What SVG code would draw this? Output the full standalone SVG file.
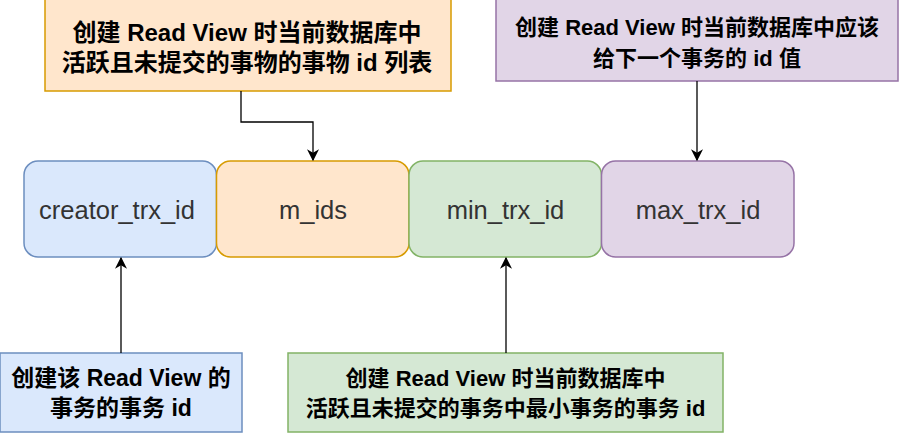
<svg xmlns="http://www.w3.org/2000/svg" width="900" height="437" viewBox="0 0 900 437">
  <defs>
    <marker id="arrow" viewBox="0 0 10 10" refX="9" refY="5" markerWidth="12" markerHeight="12" markerUnits="userSpaceOnUse" orient="auto">
      <path d="M0,0 L10,5 L0,10 L3,5 Z" fill="#000"/>
    </marker>
    <style>
      .field { font-family: "Liberation Sans", Arial, "Noto Sans CJK SC", sans-serif; font-size: 25.5px; fill: #333; text-anchor: middle; }
      .note { font-family: "Liberation Sans", Arial, "Noto Sans CJK SC", sans-serif; font-weight: bold; fill: #000; text-anchor: middle; }
      .blue { fill: #dae8fc; stroke: #6c8ebf; stroke-width: 1.5; }
      .orange { fill: #ffe6cc; stroke: #d79b00; stroke-width: 1.5; }
      .green { fill: #d5e8d4; stroke: #82b366; stroke-width: 1.5; }
      .purple { fill: #e1d5e7; stroke: #9673a6; stroke-width: 1.5; }
      .link { fill: none; stroke: #000; stroke-width: 1.3; marker-end: url(#arrow); }
    </style>
  </defs>
  <rect width="900" height="437" fill="#fff"/>

  <!-- Read View fields -->
  <g id="creator_trx_id">
    <rect class="blue" x="24" y="161" width="192.5" height="96" rx="14"/>
    <text class="field" x="117" y="219">creator_trx_id</text>
  </g>
  <g id="m_ids">
    <rect class="orange" x="216.5" y="161" width="192.5" height="96" rx="14"/>
    <text class="field" x="313" y="219">m_ids</text>
  </g>
  <g id="min_trx_id">
    <rect class="green" x="409" y="161" width="192.5" height="96" rx="14"/>
    <text class="field" x="505.5" y="219">min_trx_id</text>
  </g>
  <g id="max_trx_id">
    <rect class="purple" x="601.5" y="161" width="192.5" height="96" rx="14"/>
    <text class="field" x="698" y="219">max_trx_id</text>
  </g>

  <!-- Explanations -->
  <g id="note_m_ids">
    <rect class="orange" x="45" y="-1" width="406" height="92"/>
    <text class="note" font-size="24" x="247" y="40.5">创建 Read View 时当前数据库中</text>
    <text class="note" font-size="24" x="247" y="70.5">活跃且未提交的事物的事物 id 列表</text>
  </g>
  <g id="note_max_trx_id">
    <rect class="purple" x="496" y="-1" width="402" height="82"/>
    <text class="note" font-size="22" x="697" y="35">创建 Read View 时当前数据库中应该</text>
    <text class="note" font-size="22" x="697" y="66">给下一个事务的 id 值</text>
  </g>
  <g id="note_creator_trx_id">
    <rect class="blue" x="0" y="353" width="242" height="79"/>
    <text class="note" font-size="23" x="121" y="386">创建该 Read View 的</text>
    <text class="note" font-size="23" x="121" y="416">事务的事务 id</text>
  </g>
  <g id="note_min_trx_id">
    <rect class="green" x="288" y="353" width="435" height="79"/>
    <text class="note" font-size="22" x="505.5" y="386">创建 Read View 时当前数据库中</text>
    <text class="note" font-size="22" x="505.5" y="416">活跃且未提交的事务中最小事务的事务 id</text>
  </g>

  <!-- Connectors -->
  <g id="connectors">
    <path class="link" d="M241,91 V122 H313 V160"/>
    <path class="link" d="M697,81 V160"/>
    <path class="link" d="M121,353 V258"/>
    <path class="link" d="M506,353 V258"/>
  </g>
</svg>
